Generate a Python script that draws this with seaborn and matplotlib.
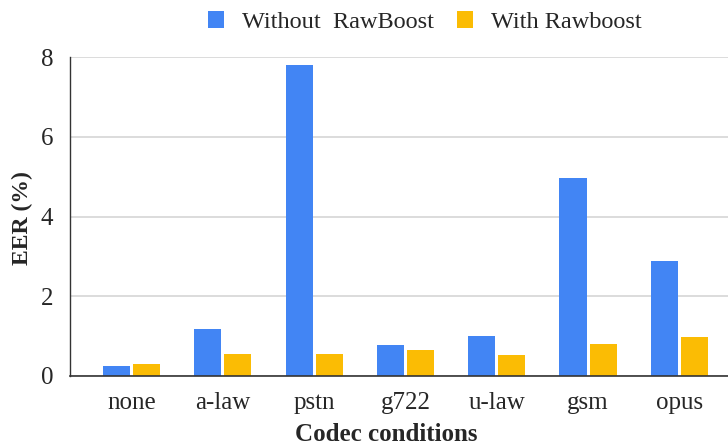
import matplotlib
matplotlib.use("Agg")
import matplotlib.pyplot as plt
import seaborn as sns
import pandas as pd

categories = ["none", "a-law", "pstn", "g722", "u-law", "gsm", "opus"]
without_rawboost = [0.24, 1.17, 7.80, 0.76, 1.00, 4.97, 2.88]
with_rawboost = [0.29, 0.55, 0.55, 0.65, 0.52, 0.80, 0.96]
series_names = ["Without  RawBoost", "With Rawboost"]
colors = ["#4285F4", "#FBBC04"]

df = pd.DataFrame({
    "codec": categories * 2,
    "eer": without_rawboost + with_rawboost,
    "series": [series_names[0]] * len(categories) + [series_names[1]] * len(categories),
})

sns.set_style("white")
plt.rcParams["font.family"] = ["Liberation Serif", "DejaVu Serif"]

fig = plt.figure(figsize=(7.28, 4.48), dpi=100)
ax = fig.add_axes([70 / 728, 72.3 / 448, 1 - 70 / 728, 318.4 / 448])

sns.barplot(data=df, x="codec", y="eer", hue="series", order=categories,
            hue_order=series_names, palette=colors, width=0.66, gap=0.1,
            saturation=1, ax=ax, legend=True, linewidth=0)

ax.set_ylim(0, 8)
ax.set_xlim(-0.674, 6.533)
ax.set_yticks([0, 2, 4, 6, 8])
ax.set_yticklabels(["0", "2", "4", "6", "8"])
ax.yaxis.grid(True, color="#d6d6d6", linewidth=1.2)
ax.set_axisbelow(True)
for s in ["top", "right"]:
    ax.spines[s].set_visible(False)
ax.spines["left"].set_color("#333333")
ax.spines["left"].set_linewidth(1.0)
ax.spines["bottom"].set_color("#333333")
ax.spines["bottom"].set_linewidth(1.2)
ax.tick_params(axis="y", length=0, pad=12, labelsize=18)
ax.tick_params(axis="x", length=0, pad=12, labelsize=18)
ax.set_ylabel("")
ax.set_xlabel("")
fig.text(22 / 728, 1 - 218 / 448, "EER (%)", rotation=90, ha="center", va="center",
         fontsize=17, fontweight="bold")
fig.text(386 / 728, 1 - 441 / 448, "Codec conditions", ha="center", va="baseline",
         fontsize=18, fontweight="bold")

handles, labels = ax.get_legend_handles_labels()
ax.get_legend().remove()
fig.legend(handles, labels, loc="center", bbox_to_anchor=(424.5 / 728, 1 - 22 / 448),
           ncol=2, frameon=False, fontsize=17.5, handlelength=0.66, handleheight=0.66,
           columnspacing=0.95, handletextpad=0.74, borderpad=0, borderaxespad=0)

fig.savefig("out.png", dpi=100)
